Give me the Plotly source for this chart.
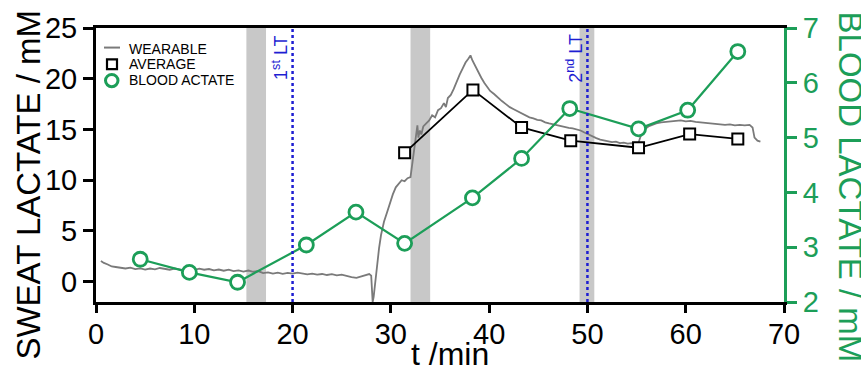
import plotly.graph_objects as go

# Continuous sweat lactate from the wearable sensor (t in min, value in mM)
wear_t = [0.5, 0.8, 1.2, 1.6, 2.0, 2.5, 3.0, 3.5, 4.0, 4.5, 5.0, 5.5, 6.0, 6.5, 7.0, 7.5,
          8.0, 8.5, 9.0, 9.5, 10.0, 10.5, 11.0, 11.5, 12.0, 12.5, 13.0, 13.5, 14.0, 14.5,
          15.0, 15.5, 16.0, 16.5, 17.0, 17.5, 18.0, 18.5, 19.0, 19.5, 20.0, 20.5, 21.0,
          21.5, 22.0, 22.5, 23.0, 23.5, 24.0, 24.5, 25.0, 25.5, 26.0, 26.5, 27.0, 27.5,
          27.8, 28.0, 28.15, 28.25, 28.4, 28.6, 28.8, 29.0, 29.3, 29.6, 29.9, 30.2, 30.5,
          30.8, 31.1, 31.4, 31.7, 32.0, 32.2, 32.4, 32.55, 32.7, 32.8, 32.95, 33.1, 33.3,
          33.6, 33.9, 34.2, 34.5, 34.8, 35.1, 35.4, 35.6, 35.8, 36.1, 36.4, 36.7, 37.0,
          37.3, 37.6, 37.9, 38.1, 38.3, 38.6, 38.9, 39.2, 39.5, 39.8, 40.1, 40.5, 40.9,
          41.3, 41.7, 42.1, 42.5, 42.9, 43.3, 43.7, 44.1, 44.5, 44.9, 45.3, 45.7, 46.1,
          46.5, 46.9, 47.3, 47.7, 48.1, 48.5, 48.9, 49.3, 49.7, 50.1, 50.5, 50.9, 51.3,
          51.7, 52.1, 52.5, 52.9, 53.3, 53.7, 54.1, 54.5, 54.9, 55.2, 55.5, 55.8, 56.2,
          56.6, 57.0, 57.5, 58.0, 58.5, 59.0, 59.5, 60.0, 60.5, 61.0, 61.5, 62.0, 62.5,
          63.0, 63.5, 64.0, 64.5, 65.0, 65.5, 66.0, 66.5, 66.8, 67.0, 67.3, 67.6]
wear_v = [2.05, 1.85, 1.7, 1.5, 1.45, 1.35, 1.3, 1.38, 1.25, 1.32, 1.2, 1.3, 1.22, 1.35, 1.25, 1.18,
          1.3, 1.2, 1.12, 1.22, 1.15, 1.28, 1.18, 1.25, 1.12, 1.2, 1.08, 1.18, 1.05, 1.12,
          1.0, 1.1, 0.98, 1.05, 0.85, 0.92, 0.8, 0.9, 0.78, 0.86, 0.8, 0.9, 0.82,
          0.72, 0.8, 0.7, 0.76, 0.66, 0.74, 0.62, 0.7, 0.55, 0.45, 0.38, 0.55, 0.7,
          0.75, 0.6, -2.0, -1.5, 0.0, 1.8, 3.3, 4.6, 5.9, 6.8, 7.8, 8.6, 9.3,
          9.7, 10.0, 9.9, 10.2, 10.3, 11.8, 13.2, 14.6, 15.4, 14.2, 14.9, 14.5, 15.3,
          15.6, 15.9, 16.4, 16.2, 16.9, 17.1, 17.6, 17.2, 18.1, 18.4, 19.0, 19.8, 20.4,
          21.0, 21.6, 22.0, 22.3, 21.8, 21.2, 20.6, 20.1, 19.6, 19.2, 18.8, 18.5, 18.1,
          17.8, 17.5, 17.2, 17.0, 16.8, 16.6, 16.4, 16.2, 16.1, 15.95, 15.9, 15.7, 15.6,
          15.5, 15.45, 15.3, 15.25, 15.15, 15.1, 15.0, 14.9, 14.7, 14.5, 14.3, 14.15, 14.0,
          13.9, 13.85, 13.75, 13.8, 13.65, 13.7, 13.6, 13.65, 13.55, 13.7, 14.6, 15.0, 15.3,
          15.45, 15.6, 15.7, 15.75, 15.8, 15.85, 15.9, 15.8, 15.85, 15.75, 15.7, 15.65, 15.6,
          15.6, 15.5, 15.45, 15.5, 15.4, 15.45, 15.4, 15.45, 15.2, 14.2, 13.9, 13.8]

# Averaged sweat lactate per stage (mM)
avg_t = [31.4, 38.35, 43.3, 48.3, 55.2, 60.4, 65.3]
avg_v = [12.7, 18.9, 15.2, 13.9, 13.2, 14.55, 14.07]

# Blood lactate samples (mM, right axis)
blood_t = [4.5, 9.5, 14.4, 21.4, 26.45, 31.4, 38.3, 43.3, 48.2, 55.2, 60.2, 65.3]
blood_v = [2.78, 2.54, 2.36, 3.04, 3.64, 3.07, 3.9, 4.62, 5.53, 5.16, 5.5, 6.57]

# Shaded intervals and lactate thresholds (min)
bands = [(15.3, 17.3), (32.0, 34.0), (49.2, 50.7)]
thresholds = [20, 50]
threshold_labels = ["1<sup>st</sup> LT", "2<sup>nd</sup> LT"]

GREEN = "#1c9e58"
BLUE = "#1e1ed2"
FONT = "Liberation Sans, Arial, Helvetica, sans-serif"

fig = go.Figure()

fig.add_trace(go.Scatter(
    x=wear_t, y=wear_v, mode="lines", name="WEARABLE",
    line=dict(color="#7a7a7a", width=1.8), showlegend=False))

fig.add_trace(go.Scatter(
    x=avg_t, y=avg_v, mode="lines+markers", name="AVERAGE",
    line=dict(color="black", width=1.8),
    marker=dict(symbol="square", size=11, color="white",
                line=dict(color="black", width=2)),
    showlegend=False))

fig.add_trace(go.Scatter(
    x=blood_t, y=blood_v, mode="lines+markers", name="BLOOD ACTATE",
    yaxis="y2",
    line=dict(color=GREEN, width=2.2),
    marker=dict(symbol="circle", size=14, color="white",
                line=dict(color=GREEN, width=2.8)),
    showlegend=False))

shapes = []
for x0, x1 in bands:
    shapes.append(dict(type="rect", xref="x", yref="paper", x0=x0, x1=x1, y0=0, y1=1,
                       fillcolor="#c8c8c8", line=dict(width=0), layer="below"))
for xt in thresholds:
    shapes.append(dict(type="line", xref="x", yref="paper", x0=xt, x1=xt, y0=0, y1=1,
                       line=dict(color=BLUE, width=2.5, dash="dot"), layer="above"))

annotations = []
for xt, lab in zip(thresholds, threshold_labels):
    annotations.append(dict(x=xt - 1.3, y=0.89, xref="x", yref="paper", text=lab,
                            textangle=-90, showarrow=False,
                            xanchor="center", yanchor="middle",
                            font=dict(family=FONT, size=18, color=BLUE)))

# Legend drawn in the upper-left corner of the plot area
L, R, T, B = 96, 784, 22, 302
def px(xp):
    return (xp - L) / (R - L)
def py(yp):
    return (B - yp) / (B - T)

shapes.append(dict(type="line", xref="paper", yref="paper",
                   x0=px(104), x1=px(120), y0=py(42), y1=py(42),
                   line=dict(color="#7a7a7a", width=2)))
shapes.append(dict(type="rect", xref="paper", yref="paper",
                   x0=px(107), x1=px(117), y0=py(54), y1=py(64),
                   line=dict(color="black", width=2.2), fillcolor="white"))
shapes.append(dict(type="circle", xref="paper", yref="paper",
                   x0=px(105.5), x1=px(118), y0=py(69.5), y1=py(82),
                   line=dict(color=GREEN, width=3), fillcolor="white"))
for txt, yc in [("WEARABLE", 43), ("AVERAGE", 59), ("BLOOD ACTATE", 75)]:
    annotations.append(dict(x=px(127), y=py(yc), xref="paper", yref="paper",
                            xanchor="left", yanchor="middle", text=txt, showarrow=False,
                            font=dict(family=FONT, size=14, color="black")))

# Axis titles
annotations.append(dict(x=px(29), y=py(182), xref="paper", yref="paper",
                        xanchor="center", yanchor="middle",
                        text="SWEAT LACTATE / mM", textangle=-90, showarrow=False,
                        font=dict(family=FONT, size=33, color="black")))
annotations.append(dict(x=px(850), y=py(184), xref="paper", yref="paper",
                        xanchor="center", yanchor="middle",
                        text="BLOOD LACTATE / mM", textangle=90, showarrow=False,
                        font=dict(family=FONT, size=33, color=GREEN)))
annotations.append(dict(x=px(450), y=py(355), xref="paper", yref="paper",
                        xanchor="center", yanchor="middle",
                        text="t /min", showarrow=False,
                        font=dict(family=FONT, size=32, color="black")))

fig.update_layout(
    width=861, height=370,
    margin=dict(l=L, r=861 - R, t=T, b=370 - B),
    paper_bgcolor="white", plot_bgcolor="white",
    showlegend=False,
    font=dict(family=FONT, color="black"),
    xaxis=dict(range=[0, 70], tickvals=[0, 10, 20, 30, 40, 50, 60, 70],
               showgrid=False, zeroline=False, showline=True, linecolor="black",
               linewidth=3, mirror=True, ticks="outside", ticklen=8, tickwidth=3,
               ticklabelstandoff=-4,
               tickcolor="black", tickfont=dict(family=FONT, size=29)),
    yaxis=dict(range=[-2, 25], tickvals=[0, 5, 10, 15, 20, 25],
               showgrid=False, zeroline=False, showline=True, linecolor="black",
               linewidth=3, ticks="outside", ticklen=10, tickwidth=3,
               tickcolor="black", tickfont=dict(family=FONT, size=29)),
    yaxis2=dict(range=[2, 7], tickvals=[2, 3, 4, 5, 6, 7], overlaying="y", side="right",
                showgrid=False, zeroline=False, showline=True, linecolor=GREEN,
                linewidth=3, ticks="outside", ticklen=10, tickwidth=3,
                tickcolor=GREEN, tickfont=dict(family=FONT, size=29, color=GREEN)),
    shapes=shapes,
    annotations=annotations,
)

fig.write_html("out.html")
